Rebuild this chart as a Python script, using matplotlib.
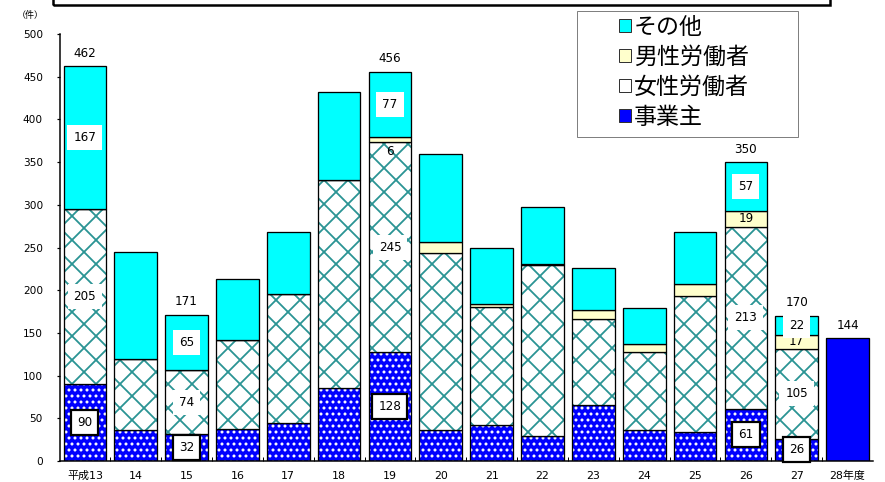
import numpy as np
import matplotlib.pyplot as plt
from matplotlib.patches import Rectangle, Patch

plt.rcParams['font.family'] = ['DejaVu Sans', 'Noto Sans CJK JP']
plt.rcParams['hatch.linewidth'] = 1.8

# %% データ（件数）
nendo = ['平成13', '14', '15', '16', '17', '18', '19', '20', '21', '22',
         '23', '24', '25', '26', '27', '28年度']
jigyonushi = [90, 36, 32, 37, 45, 85, 128, 36, 42, 29, 65, 36, 34, 61, 26, 144]
josei = [205, 84, 74, 105, 150, 244, 245, 208, 138, 200, 101, 92, 159, 213, 105, 0]
dansei = [0, 0, 0, 0, 0, 0, 6, 12, 4, 2, 11, 9, 14, 19, 17, 0]
sonota = [167, 125, 65, 71, 73, 103, 77, 104, 65, 67, 49, 42, 61, 57, 22, 0]
label_idx = [0, 2, 6, 13, 14]   # 内訳の数値を表示する年度
total_idx = [0, 2, 6, 13, 14, 15]
legend_labels = ['その他', '男性労働者', '女性労働者', '事業主']

c_sonota = '#00ffff'
c_dansei = '#ffffcc'
c_josei_h = '#2a9494'
c_jigyo = '#0000ff'

W, H = 885, 482
fig = plt.figure(figsize=(W / 72, H / 72), dpi=72)
ax = fig.add_axes([59.5 / W, 1 - 461 / H, (873 - 59.5) / W, (461 - 34) / H])

x = np.arange(len(nendo))
w = 0.84
n = len(nendo) - 1

j = np.array(jigyonushi)
f = np.array(josei)
m = np.array(dansei)
s = np.array(sonota)


def layer(xs, vals, bottom, face, hatch=None, hcolor='none'):
    ax.bar(xs, vals, w, bottom=bottom, color=face, hatch=hatch,
           edgecolor=hcolor, linewidth=0)
    ax.bar(xs, vals, w, bottom=bottom, fill=False, edgecolor='black',
           linewidth=1.3)


layer(x[:n], j[:n], 0, c_jigyo, '..', 'white')
layer(x[n:], j[n:], 0, c_jigyo)
layer(x[:n], f[:n], j[:n], 'white', 'x', c_josei_h)
layer(x[:n], m[:n], (j + f)[:n], c_dansei)
layer(x[:n], s[:n], (j + f + m)[:n], c_sonota)

# %% ラベル
def label(xi, y, txt, boxed=None):
    if boxed is None:
        ax.text(xi, y, txt, ha='center', va='center', fontsize=12)
        return
    bbox = dict(boxstyle='square,pad=0.5', fc='white',
                ec='black' if boxed else 'none', lw=2.2 if boxed else 0)
    ax.text(xi, y, txt, ha='center', va='center', fontsize=12, bbox=bbox)


for i in label_idx:
    label(i, j[i] / 2, str(j[i]), True)
    label(i, j[i] + f[i] / 2, str(f[i]), False)
    if m[i] > 0:
        if m[i] < 10:
            ax.annotate(str(m[i]), (i, j[i] + f[i]), xytext=(0, -3),
                        textcoords='offset points', ha='center', va='top',
                        fontsize=12)
        else:
            label(i, j[i] + f[i] + m[i] / 2, str(m[i]))
    label(i, j[i] + f[i] + m[i] + s[i] / 2, str(s[i]), False)

tot = j + f + m + s
for i in total_idx:
    ax.annotate(str(tot[i]), (i, tot[i]), xytext=(0, 13),
                textcoords='offset points', ha='center', va='center',
                fontsize=12)

# %% 軸
ax.set_xlim(-0.5, len(nendo) - 0.5)
ax.set_ylim(0, 500)
ax.set_yticks(np.arange(0, 501, 50))
ax.set_xticks(x)
ax.set_xticklabels(nendo)
ax.set_xticks(np.arange(0.5, len(nendo) - 0.5, 1), minor=True)
ax.tick_params(axis='x', which='major', length=0, pad=10, labelsize=11)
ax.tick_params(axis='x', which='minor', length=4, direction='in', width=1)
ax.tick_params(axis='y', length=3, width=1.2, pad=13.5, labelsize=10.5)
for sp in ['top', 'right']:
    ax.spines[sp].set_visible(False)
for sp in ['left', 'bottom']:
    ax.spines[sp].set_linewidth(1.5)

fig.text(30 / W, 1 - 15 / H, '（件）', ha='center', va='center', fontsize=9)

# 上部の枠（途中で切れている）
fig.patches.append(Rectangle((53 / W, 1 - 5 / H), (830 - 53) / W, 30 / H,
                             transform=fig.transFigure, fill=False,
                             edgecolor='black', linewidth=2.5))

# %% 凡例
fig.patches.append(Rectangle((577 / W, 1 - 137 / H), (798 - 577) / W,
                             (137 - 11) / H, transform=fig.transFigure,
                             facecolor='white', edgecolor='#808080',
                             linewidth=1, zorder=5))
handles = [Patch(facecolor=c_sonota, edgecolor='#333333'),
           Patch(facecolor=c_dansei, edgecolor='#333333'),
           Patch(facecolor='white', edgecolor='#333333'),
           Patch(facecolor=c_jigyo, edgecolor='#333333')]
leg = fig.legend(handles, legend_labels, loc='upper left',
                 bbox_to_anchor=(619 / W, 1 - 16 / H), frameon=False,
                 fontsize=23, handlelength=0.5, handleheight=0.5,
                 handletextpad=0.15, labelspacing=0.3, borderpad=0,
                 borderaxespad=0)
leg.set_zorder(6)

fig.savefig('out.png', dpi=72)
